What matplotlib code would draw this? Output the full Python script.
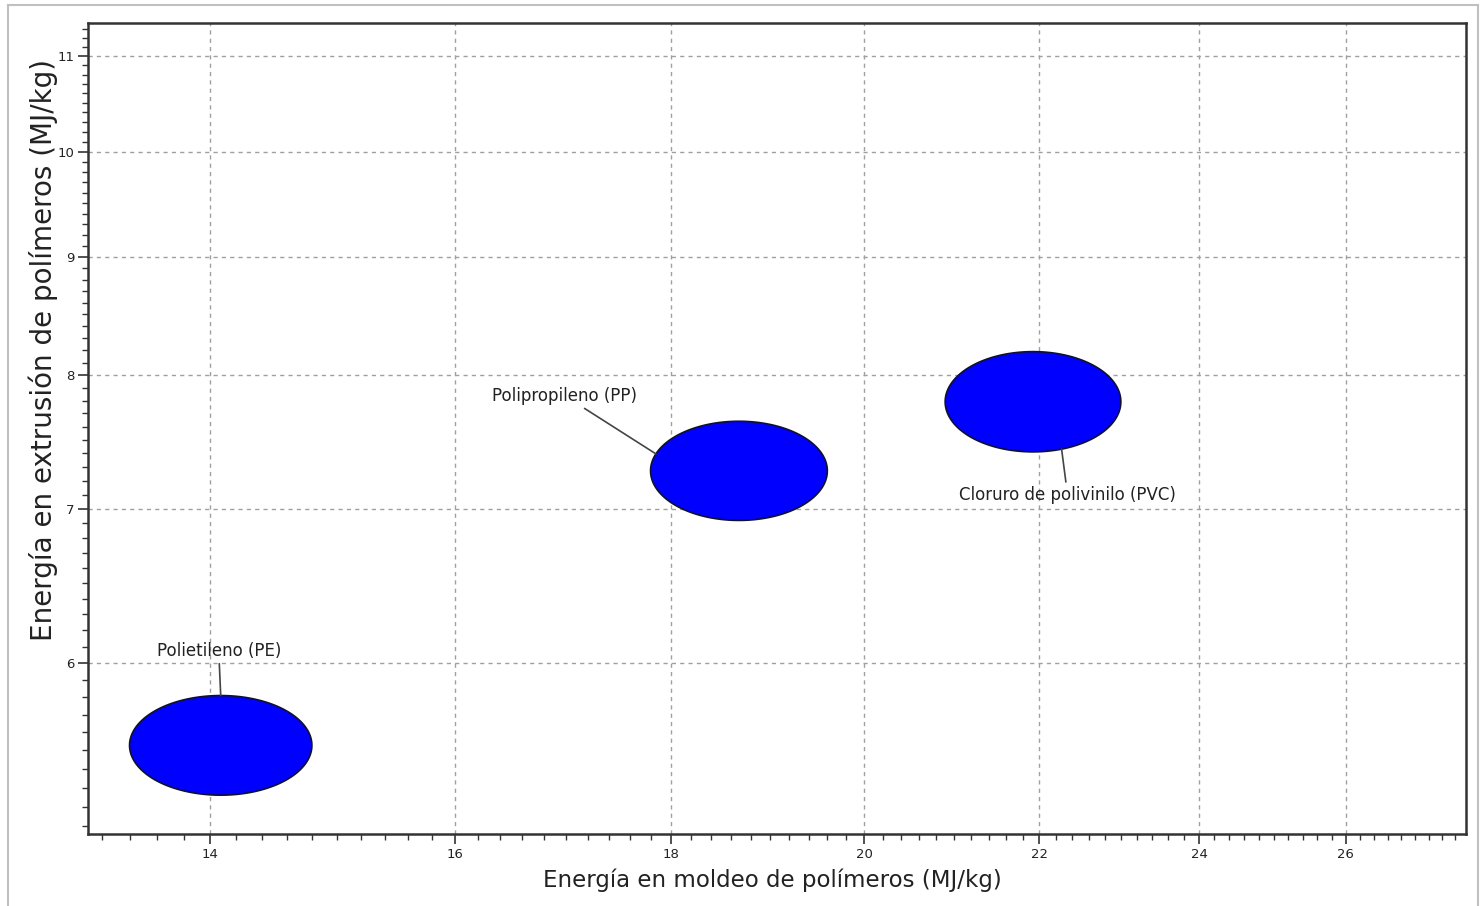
import numpy as np
import matplotlib
matplotlib.use("Agg")
import matplotlib.pyplot as plt
from matplotlib.ticker import FixedLocator, FixedFormatter, MultipleLocator, NullFormatter
from matplotlib.lines import Line2D

# ranges (MJ/kg)
materials = ["Polietileno (PE)", "Polipropileno (PP)", "Cloruro de polivinilo (PVC)"]
moldeo_lo = [13.4, 17.8, 20.9]
moldeo_hi = [14.8, 19.6, 23.0]
extrusion_lo = [5.26, 6.92, 7.41]
extrusion_hi = [5.81, 7.64, 8.19]

x_ticks = [14, 16, 18, 20, 22, 24, 26]
y_ticks = [6, 7, 8, 9, 10, 11]

# label placement: angle on the bubble edge and text offset (pixels)
label_angle = [90, 160, -71]
label_offset = [(-2, 45), (-91, 58), (6, -46)]

plt.rcParams["font.family"] = ["DejaVu Sans"]

fig = plt.figure(figsize=(14.81, 9.06), dpi=100)
ax = fig.add_axes([88 / 1481, 1 - 834 / 906, (1466 - 88) / 1481, (834 - 23) / 906])

ax.set_xscale("log")
ax.set_yscale("log")
ax.set_xlim(13.10, 27.76)
ax.set_ylim(5.06, 11.37)

t = np.linspace(0, 2 * np.pi, 300)
for i, name in enumerate(materials):
    lx = (np.log(moldeo_lo[i]) + np.log(moldeo_hi[i])) / 2
    rx = (np.log(moldeo_hi[i]) - np.log(moldeo_lo[i])) / 2
    ly = (np.log(extrusion_lo[i]) + np.log(extrusion_hi[i])) / 2
    ry = (np.log(extrusion_hi[i]) - np.log(extrusion_lo[i])) / 2
    ax.fill(np.exp(lx + rx * np.cos(t)), np.exp(ly + ry * np.sin(t)),
            facecolor="#0000ff", edgecolor="#101030", linewidth=1.2, zorder=3)
    a = np.deg2rad(label_angle[i])
    px = np.exp(lx + rx * np.cos(a))
    py = np.exp(ly + ry * np.sin(a))
    ax.annotate(name, xy=(px, py), xytext=label_offset[i], textcoords="offset pixels",
                ha="center", va="center", fontsize=12, color="#222222",
                arrowprops=dict(arrowstyle="-", color="#444444", lw=1.2,
                                shrinkA=1, shrinkB=0),
                zorder=4)

ax.xaxis.set_major_locator(FixedLocator(x_ticks))
ax.xaxis.set_minor_locator(MultipleLocator(0.2))
ax.xaxis.set_major_formatter(FixedFormatter([str(v) for v in x_ticks]))
ax.xaxis.set_minor_formatter(NullFormatter())
ax.yaxis.set_major_locator(FixedLocator(y_ticks))
ax.yaxis.set_minor_locator(MultipleLocator(0.1))
ax.yaxis.set_major_formatter(FixedFormatter([str(v) for v in y_ticks]))
ax.yaxis.set_minor_formatter(NullFormatter())

ax.grid(True, which="major", color="#a0a0a0", linestyle=(0, (3, 3)), linewidth=1.0, zorder=1)
ax.set_axisbelow(True)

ax.tick_params(which="major", direction="out", length=7, width=1.2, color="#333333",
               labelsize=9.5, labelcolor="#222222", pad=3)
ax.tick_params(which="minor", direction="out", length=4, width=1.0, color="#333333")
for s in ax.spines.values():
    s.set_linewidth(1.8)
    s.set_color("#333333")

ax.set_xlabel("Energía en moldeo de polímeros (MJ/kg)", fontsize=16.5, color="#222222")
ax.xaxis.set_label_coords(0.497, -0.042)
ax.set_ylabel("Energía en extrusión de polímeros (MJ/kg)", fontsize=20, color="#222222")
ax.yaxis.set_label_coords(-0.022, 0.597)

# light frame around the picture
fig.add_artist(Line2D([8 / 1481, 1478 / 1481], [1 - 5 / 906, 1 - 5 / 906],
                      transform=fig.transFigure, color="#c0c0c0", lw=1.5))
fig.add_artist(Line2D([8 / 1481, 8 / 1481], [0, 1 - 5 / 906],
                      transform=fig.transFigure, color="#c0c0c0", lw=1.5))
fig.add_artist(Line2D([1478 / 1481, 1478 / 1481], [0, 1 - 5 / 906],
                      transform=fig.transFigure, color="#c0c0c0", lw=1.5))

fig.savefig("out.png", dpi=100)
